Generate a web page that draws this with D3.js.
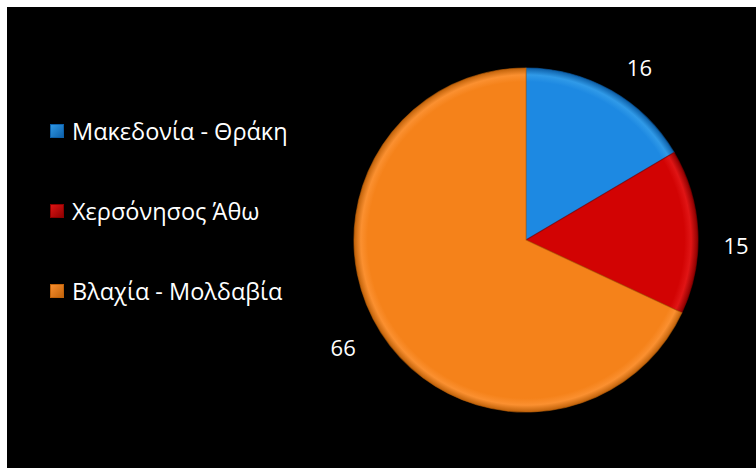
<!DOCTYPE html>
<html><head><meta charset="utf-8">
<script src="https://cdn.jsdelivr.net/npm/d3@7"></script>
<style>html,body{margin:0;padding:0;background:#fff;}svg{display:block;}</style>
</head><body>
<svg id="c" width="756" height="468"></svg>
<script>
const categories = ["Μακεδονία - Θράκη", "Χερσόνησος Άθω", "Βλαχία - Μολδαβία"];
const values = [16, 15, 66];
const colors = ["#1d89e2", "#d20303", "#f5821a"];
const lightColors = ["#309ae8", "#e01515", "#fb9030"];
const darkColors = ["#0d5fa8", "#8c0000", "#c0620a"];

const svg = d3.select("#c");
svg.append("rect").attr("x", 7).attr("y", 7).attr("width", 749).attr("height", 461).attr("fill", "#000");

const defs = svg.append("defs");
const cx = 526, cy = 240, R = 172;

categories.forEach((c, i) => {
  const g = defs.append("radialGradient").attr("id", "g" + i)
    .attr("gradientUnits", "userSpaceOnUse").attr("cx", 0).attr("cy", 0).attr("r", R);
  g.append("stop").attr("offset", "0%").attr("stop-color", colors[i]);
  g.append("stop").attr("offset", "92%").attr("stop-color", colors[i]);
  g.append("stop").attr("offset", "96%").attr("stop-color", lightColors[i]);
  g.append("stop").attr("offset", "100%").attr("stop-color", darkColors[i]);
  const m = defs.append("linearGradient").attr("id", "m" + i)
    .attr("x1", 0).attr("y1", 0).attr("x2", 1).attr("y2", 1);
  m.append("stop").attr("offset", "0%").attr("stop-color", lightColors[i]);
  m.append("stop").attr("offset", "100%").attr("stop-color", darkColors[i]);
});

const pie = d3.pie().sort(null).value(d => d);
const arcs = pie(values);
const arc = d3.arc().innerRadius(0).outerRadius(R);
const labelR = 210, shift = 3 * Math.PI / 180;

const gp = svg.append("g").attr("transform", `translate(${cx},${cy})`);
gp.selectAll("path.s").data(arcs).enter().append("path")
  .attr("d", arc).attr("fill", (d, i) => `url(#g${i})`)
  .attr("stroke", (d, i) => darkColors[i]).attr("stroke-width", 1.2).attr("stroke-opacity", 0.6)
  .attr("stroke-linejoin", "round");

gp.selectAll("text.l").data(arcs).enter().append("text")
  .attr("transform", d => {
    const a = (d.startAngle + d.endAngle) / 2 + shift;
    return `translate(${labelR * Math.sin(a)},${-labelR * Math.cos(a) + 4})`;
  })
  .attr("text-anchor", "middle").attr("dominant-baseline", "central")
  .attr("fill", "#fff").attr("font-family", "'Open Sans', sans-serif").attr("font-size", 22)
  .text(d => d.data);

const leg = svg.append("g");
const rows = leg.selectAll("g").data(categories).enter().append("g")
  .attr("transform", (d, i) => `translate(50,${131 + i * 80})`);
rows.append("rect").attr("x", 0.5).attr("y", -6.5).attr("width", 13).attr("height", 13)
  .attr("fill", (d, i) => `url(#m${i})`).attr("stroke", (d, i) => darkColors[i]).attr("stroke-width", 1);
rows.append("text").attr("x", 22).attr("y", 0).attr("dominant-baseline", "central")
  .attr("fill", "#fff").attr("font-family", "'Open Sans', sans-serif").attr("font-size", 23.5)
  .text(d => d);
</script>
</body></html>
